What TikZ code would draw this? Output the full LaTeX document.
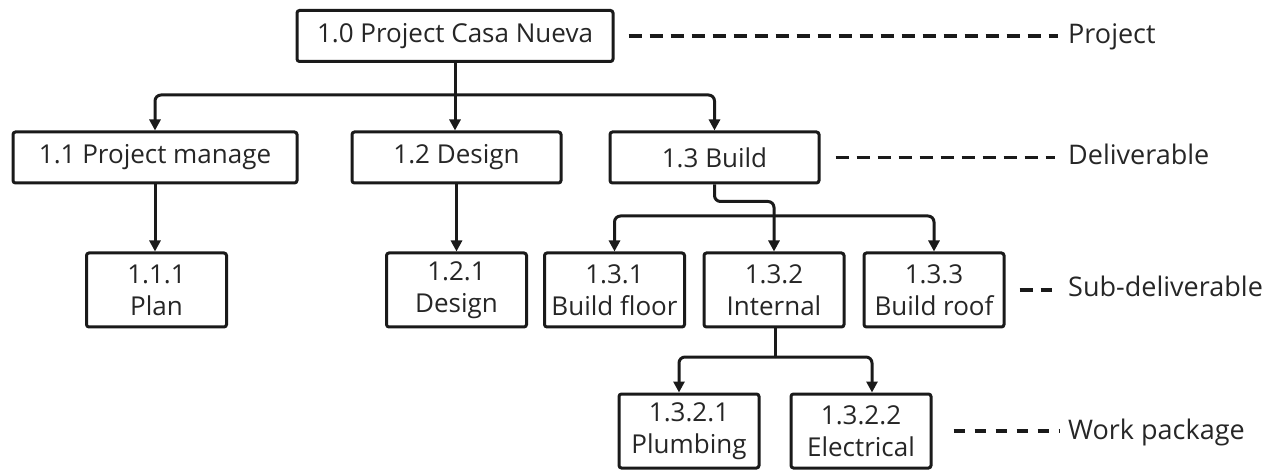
\documentclass[tikz,border=0pt]{standalone}
\usepackage{fontspec}
\setmainfont{Open Sans}
\usetikzlibrary{arrows.meta}
\definecolor{ink}{HTML}{1A1A1A}
\definecolor{txt}{HTML}{262626}
\begin{document}
\begin{tikzpicture}[x=1pt,y=-1pt,
  wbs/.style={draw=ink,line width=3pt,rounded corners=2.5pt,fill=white,
    inner sep=0pt,align=center,text=txt,font=\fontsize{26}{32}\selectfont},
  single/.style={wbs,minimum height=51pt},
  double/.style={wbs,minimum height=74pt,minimum width=140pt},
  level/.style={anchor=west,inner sep=0pt,text=txt,font=\fontsize{27}{30}\selectfont,
    text height=19pt,text depth=5pt},
  link/.style={draw=ink,line width=3pt,rounded corners=6pt},
  arrowlink/.style={link,-{Triangle[length=11pt,width=11pt]}},
  guide/.style={draw=ink,line width=3.4pt,dash pattern=on 13pt off 8pt},
  fineguide/.style={draw=ink,line width=3.4pt,dash pattern=on 11pt off 10pt}]
\useasboundingbox (0,0) rectangle (1269,470);

% tree nodes
\node[single,minimum width=316pt] (root) at (455,36) {1.0 Project Casa Nueva};
\node[single,minimum width=284pt] (p11) at (155,157.5) {1.1 Project manage};
\node[single,minimum width=209pt] (p12) at (456.5,157.5) {1.2 Design};
\node[single,minimum width=209pt] (p13) at (714.5,157.5) {1.3 Build};
\node[double] (p111) at (156.5,290) {1.1.1\\Plan};
\node[double] (p121) at (456.5,290) {1.2.1\\Design};
\node[double] (p131) at (614.5,290) {1.3.1\\Build floor};
\node[double] (p132) at (774,290) {1.3.2\\Internal};
\node[double] (p133) at (934,290) {1.3.3\\Build roof};
\node[double] (p1321) at (689,431) {1.3.2.1\\Plumbing};
\node[double] (p1322) at (861,431) {1.3.2.2\\Electrical};

% bus points
\coordinate (bus1) at (455,95);
\coordinate (bus2) at (774,216);
\coordinate (bus3) at (775,357);

% connectors
\draw[link] (root.south) -- (bus1);
\draw[arrowlink] (bus1) -| (p11.north);
\draw[arrowlink] (bus1) -- (bus1 |- p12.north);
\draw[arrowlink] (bus1) -| (p13.north);
\draw[arrowlink] (p11.south) -- (p11.south |- p111.north);
\draw[arrowlink] (p121.north |- p12.south) -- (p121.north);
\draw[arrowlink] (p13.south) -- ++(0,17) -| (p132.north);
\draw[arrowlink] (bus2) -| (p131.north);
\draw[arrowlink] (bus2) -| (p133.north);
\draw[link] (p132.south -| bus3) -- (bus3);
\draw[arrowlink] (bus3) -| ([xshift=-10pt]p1321.north);
\draw[arrowlink] (bus3) -| ([xshift=11pt]p1322.north);

% level labels
\node[level] (lproj) at (1068,37) {Project};
\node[level] (ldel) at (1068,157.5) {Deliverable};
\node[level] (lsub) at (1068,290) {Sub-deliverable};
\node[level] (lwork) at (1068,432) {Work package};

\draw[guide,shorten <=14pt,shorten >=10pt] (root.east) -- (root.east -| lproj.west);
\draw[guide,shorten <=15pt,shorten >=13pt] (p13.east) -- (p13.east -| ldel.west);
\draw[guide,shorten <=14pt,shorten >=16pt] (p133.east) -- (p133.east -| lsub.west);
\draw[fineguide,shorten <=21pt,shorten >=8pt] (p1322.east) -- (p1322.east -| lwork.west);
\end{tikzpicture}
\end{document}
